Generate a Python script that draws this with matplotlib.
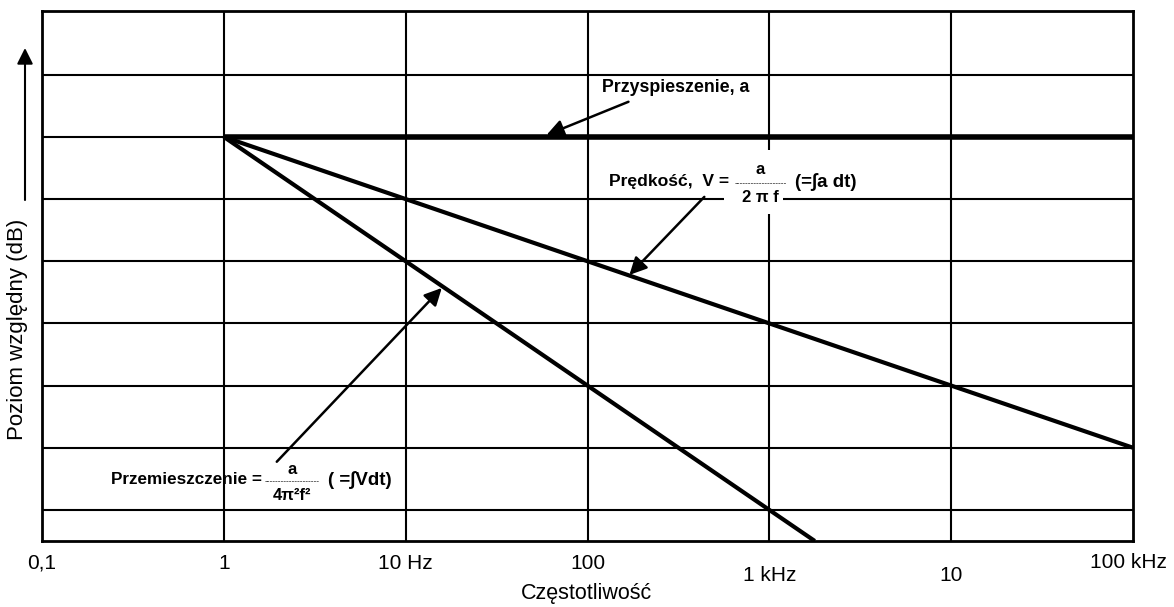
import numpy as np
import matplotlib
matplotlib.use("Agg")
import matplotlib.pyplot as plt
from matplotlib.patches import Rectangle
import matplotlib.transforms as mtransforms

plt.rcParams['font.family'] = ['Liberation Sans', 'DejaVu Sans']

# data
freq_ticks = [0.1, 1, 10, 100, 1e3, 1e4, 1e5]
tick_labels = ['0,1', '1', '10 Hz', '100', '1 kHz', '10', '100 kHz']
grid_levels = [20, 0, -20, -40, -60, -80, -100, -120]

freq_acc = [1, 1e5]
lvl_acc = [0, 0]
freq_vel = [1, 1e5]
lvl_vel = [0, -100]
freq_disp = [1, 1778]
lvl_disp = [0, -130]

fig = plt.figure(figsize=(11.74, 6.07), dpi=100)
ax = fig.add_axes([42 / 1174, 66 / 607, 1091 / 1174, 530 / 607])
ax.set_xscale('log')
ax.set_xlim(0.1, 1e5)
ax.set_ylim(-130, 40.5)

# grid
for f in freq_ticks[1:-1]:
    ax.axvline(f, color='black', lw=1.5, zorder=1)
for g in grid_levels:
    ax.axhline(g, color='black', lw=1.5, zorder=1)

for s in ax.spines.values():
    s.set_linewidth(2)
ax.set_xticks(freq_ticks)
ax.set_xticklabels([])
ax.minorticks_off()
ax.tick_params(length=0)
ax.set_yticks([])

# staggered tick labels like the original
label_y = [-0.042, -0.042, -0.042, -0.042, -0.066, -0.066, -0.040]
label_dx = [0, 0, 0, 0, 0, 0, -5]
trans = mtransforms.blended_transform_factory(ax.transData, ax.transAxes)
for f, lab, yy, dx in zip(freq_ticks, tick_labels, label_y, label_dx):
    ax.annotate(lab, (f, yy), xycoords=trans, xytext=(dx, 0), textcoords='offset pixels',
                ha='center', va='center', fontsize=15, annotation_clip=False)

fig.text(587 / 1174, 1 - 593 / 607, 'Częstotliwość', ha='center', va='center', fontsize=15.5)
fig.text(18 / 1174, 1 - 329 / 607, 'Poziom względny (dB)', rotation=90,
         ha='center', va='center', fontsize=16)
ax.annotate('', xy=(25 / 1174, 1 - 48 / 607), xytext=(25 / 1174, 1 - 200 / 607),
            xycoords='figure fraction', textcoords='figure fraction',
            arrowprops=dict(arrowstyle='-|>', color='black', lw=1.5, mutation_scale=24,
                            shrinkA=0, shrinkB=0), annotation_clip=False)

# curves
ax.plot(freq_acc, lvl_acc, color='black', lw=4, solid_capstyle='butt', zorder=3)
ax.plot(freq_vel, lvl_vel, color='black', lw=3, solid_capstyle='butt', zorder=3)
ax.plot(freq_disp, lvl_disp, color='black', lw=3, solid_capstyle='butt', zorder=3)

arr = dict(arrowstyle='-|>', color='black', lw=1.8, mutation_scale=26, shrinkA=0, shrinkB=0)

# acceleration
ax.text(305, 15.8, 'Przyspieszenie, a', ha='center', va='center', fontsize=12.8,
        fontweight='bold')
ax.annotate('', xy=(59.5, 0.6), xytext=(168, 11.3), arrowprops=arr, zorder=4)

# velocity
ax.add_patch(Rectangle((566, -24.8), 1194 - 566, 20.6, facecolor='white',
                       edgecolor='none', zorder=2))
ax.text(10 ** ((736 - 225) / 182), -14.5, 'Prędkość,  V = ', ha='right', va='center',
        fontsize=12.6, fontweight='bold', zorder=5)
ax.text(893, -10.5, 'a', ha='center', va='center', fontsize=12, fontweight='bold', zorder=5)
ax.text(893, -15.2, '-' * 19, ha='center', va='center', fontsize=6, zorder=5)
ax.text(893, -19.6, '2 π f', ha='center', va='center', fontsize=12, fontweight='bold', zorder=5)
ax.text(1390, -14.5, '(=∫a dt)', ha='left', va='center', fontsize=13.5, fontweight='bold', zorder=5)
ax.annotate('', xy=(170, -44.4), xytext=(439, -19.3), arrowprops=arr, zorder=4)

# displacement
ax.text(1.63, -110.3, 'Przemieszczenie =', ha='right', va='center', fontsize=12.3,
        fontweight='bold', zorder=5)
ax.text(2.36, -107.0, 'a', ha='center', va='center', fontsize=12, fontweight='bold', zorder=5)
ax.text(2.36, -110.8, '-' * 20, ha='center', va='center', fontsize=6, zorder=5)
ax.text(2.36, -115.4, '4π²f²', ha='center', va='center', fontsize=12, fontweight='bold', zorder=5)
ax.text(3.72, -110.3, '( =∫Vdt)', ha='left', va='center', fontsize=13.5, fontweight='bold', zorder=5)
ax.annotate('', xy=(15.8, -48.6), xytext=(1.955, -104.5), arrowprops=arr, zorder=4)

fig.savefig('out.png', dpi=100)
